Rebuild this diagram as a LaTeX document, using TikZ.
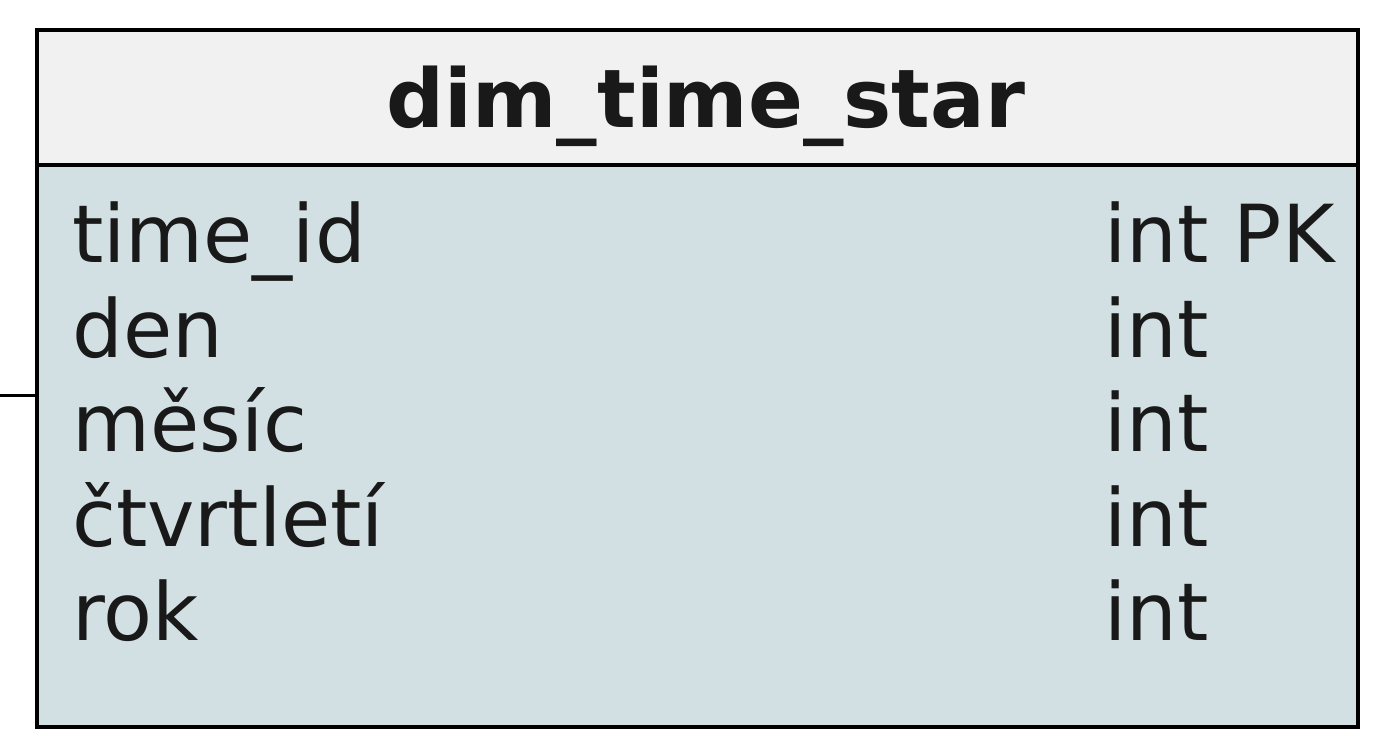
\documentclass[tikz,border=0pt]{standalone}
\usepackage{fontspec}
\setmainfont{DejaVu Sans}
\definecolor{hdr}{HTML}{F1F1F1}
\definecolor{bodyc}{HTML}{D2E0E4}
\begin{document}
\begin{tikzpicture}[x=1pt,y=-1pt,
  fld/.style={anchor=base west,inner sep=0pt,font=\fontsize{80}{96}\selectfont,text=black!90},
  edge/.style={line width=3pt,draw=black}]
\useasboundingbox[fill=white] (0,0) rectangle (1396,752);
\node[draw=black,line width=3.5pt,fill=bodyc,anchor=north west,minimum width=1321pt,minimum height=697pt,inner sep=0pt,outer sep=0pt] (tbl) at (37,30) {};
\node[draw=black,line width=3.5pt,fill=hdr,anchor=north west,minimum width=1321pt,minimum height=135pt,inner sep=0pt,outer sep=0pt] (hdr) at (37,30) {};
\node[inner sep=0pt,anchor=base,font=\fontsize{81}{96}\selectfont\bfseries,text=black!90] (title) at (706,127) {dim\_time\_star};
\node[fld] (f1) at (72,262) {time\_id};
\node[fld] (f2) at (72,357) {den};
\node[fld] (f3) at (72,451) {měsíc};
\node[fld] (f4) at (72,546) {čtvrtletí};
\node[fld] (f5) at (72,640) {rok};
\node[fld] (t1) at (1104,262) {int PK};
\node[fld] (t2) at (1104,357) {int};
\node[fld] (t3) at (1104,451) {int};
\node[fld] (t4) at (1104,546) {int};
\node[fld] (t5) at (1104,640) {int};
\coordinate (src) at (0,395);
\draw[edge] (src) -- (tbl.west |- src);
\end{tikzpicture}
\end{document}
